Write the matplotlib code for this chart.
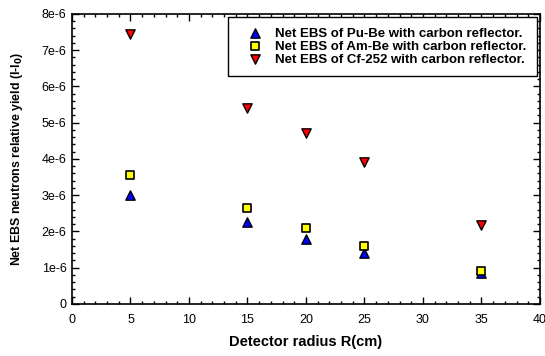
import matplotlib
matplotlib.use("Agg")
import matplotlib.pyplot as plt
from matplotlib.ticker import MultipleLocator, FuncFormatter

plt.rcParams['font.family'] = ['Liberation Sans', 'DejaVu Sans']

radius = [5, 15, 20, 25, 35]
pube = [3.00e-6, 2.26e-6, 1.80e-6, 1.41e-6, 0.85e-6]
ambe = [3.56e-6, 2.66e-6, 2.11e-6, 1.60e-6, 0.91e-6]
cf252 = [7.46e-6, 5.40e-6, 4.71e-6, 3.92e-6, 2.17e-6]
labels = ["Net EBS of Pu-Be with carbon reflector.",
          "Net EBS of Am-Be with carbon reflector.",
          "Net EBS of Cf-252 with carbon reflector."]

fig = plt.figure(figsize=(5.45, 3.56), dpi=100)
ax = fig.add_axes([0.1321, 0.1461, 0.8587, 0.8146])

ax.scatter(radius, pube, marker='^', s=45, c='#0000ff', edgecolors='black', linewidths=1.0, label=labels[0], zorder=3)
ax.scatter(radius, ambe, marker='s', s=38, c='#ffff00', edgecolors='black', linewidths=1.2, label=labels[1], zorder=4)
ax.scatter(radius, cf252, marker='v', s=45, c='#ff0000', edgecolors='black', linewidths=1.0, label=labels[2], zorder=3)

ax.set_xlim(0, 40)
ax.set_ylim(0, 8e-6)
ax.xaxis.set_major_locator(MultipleLocator(5))
ax.xaxis.set_minor_locator(MultipleLocator(1))
ax.yaxis.set_major_locator(MultipleLocator(1e-6))
ax.yaxis.set_minor_locator(MultipleLocator(0.2e-6))

def yfmt(v, pos):
    n = int(round(v / 1e-6))
    return "0" if n == 0 else f"{n}e-6"
ax.yaxis.set_major_formatter(FuncFormatter(yfmt))

ax.tick_params(which='both', direction='in', top=True, right=True, labelsize=9, width=1.0)
ax.tick_params(which='major', length=5)
ax.tick_params(axis='x', which='major', pad=7)
ax.tick_params(axis='y', which='major', pad=4)
ax.tick_params(which='minor', length=2.5)
for sp in ax.spines.values():
    sp.set_linewidth(1.2)

ax.set_xlabel("Detector radius R(cm)", fontsize=10.5, fontweight='bold')
ax.set_ylabel("Net EBS neutrons relative yield (I-I$_\\mathbf{0}$)", fontsize=8.9, fontweight='bold')
ax.xaxis.set_label_coords(0.5, -0.108)
ax.yaxis.set_label_coords(-0.100, 0.5)

leg = ax.legend(loc='upper right', bbox_to_anchor=(0.9936, 0.9897),
                prop={'weight': 'bold', 'size': 9.5}, fancybox=False, framealpha=1,
                edgecolor='black', handletextpad=0.25, borderpad=0.8, labelspacing=0.05,
                borderaxespad=0.0, handlelength=2.55)
leg.get_frame().set_linewidth(1.0)

fig.savefig("out.png", dpi=100)
